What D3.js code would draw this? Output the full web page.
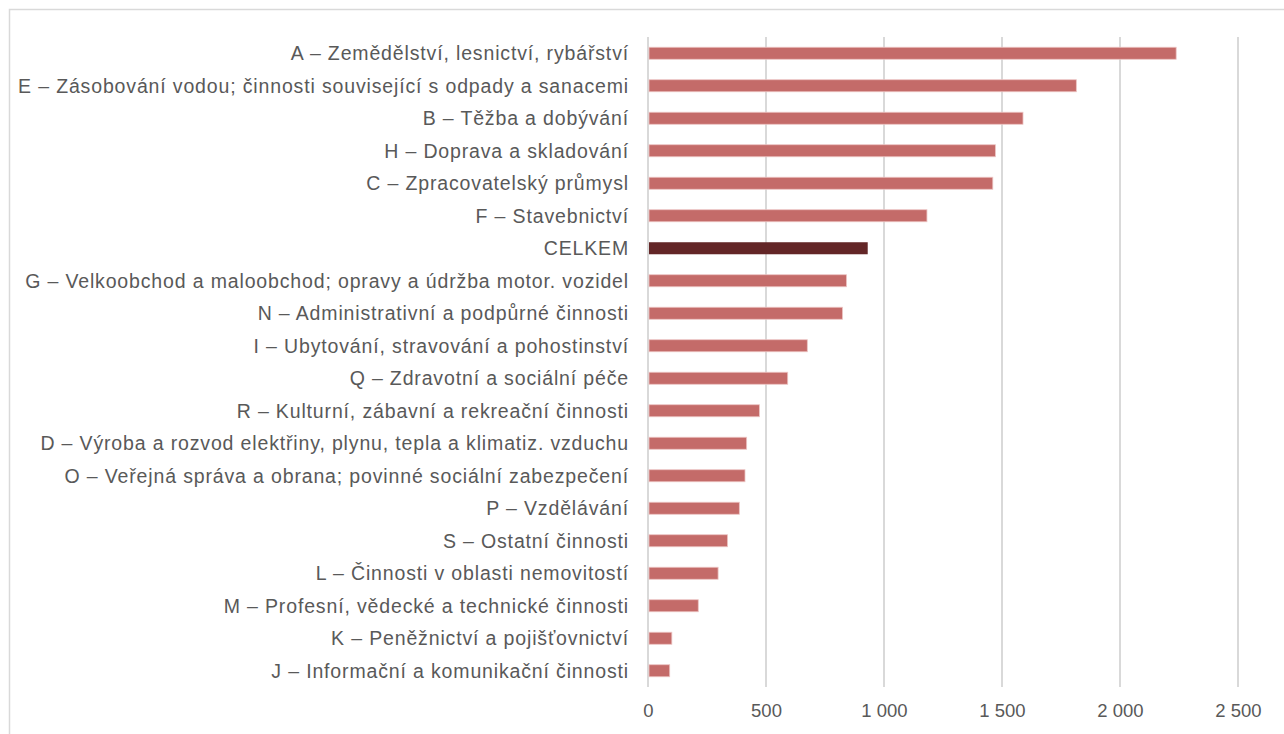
<!DOCTYPE html>
<html>
<head>
<meta charset="UTF-8">
<title>Odvětví</title>
<style>
  body { margin: 0; background: #fff; }
  text { font-family: "Liberation Sans", Arial, sans-serif; }
</style>
</head>
<body>
<div id="chart"></div>
<script src="https://d3js.org/d3.v7.min.js"></script>
<script>
// categories from top to bottom
var categories = [
  "A – Zemědělství, lesnictví, rybářství",
  "E – Zásobování vodou; činnosti související s odpady a sanacemi",
  "B – Těžba a dobývání",
  "H – Doprava a skladování",
  "C – Zpracovatelský průmysl",
  "F – Stavebnictví",
  "CELKEM",
  "G – Velkoobchod a maloobchod; opravy a údržba motor. vozidel",
  "N – Administrativní a podpůrné činnosti",
  "I – Ubytování, stravování a pohostinství",
  "Q – Zdravotní a sociální péče",
  "R – Kulturní, zábavní a rekreační činnosti",
  "D – Výroba a rozvod elektřiny, plynu, tepla a klimatiz. vzduchu",
  "O – Veřejná správa a obrana; povinné sociální zabezpečení",
  "P – Vzdělávání",
  "S – Ostatní činnosti",
  "L – Činnosti v oblasti nemovitostí",
  "M – Profesní, vědecké a technické činnosti",
  "K – Peněžnictví a pojišťovnictví",
  "J – Informační a komunikační činnosti"
];
var values = [2238, 1815, 1589, 1472, 1461, 1182, 931, 841, 824, 675, 592, 472, 418, 411, 387, 337, 297, 213, 101, 92];
var xTicks = [0, 500, 1000, 1500, 2000, 2500];
var totalLabel = "CELKEM";

var W = 1284, H = 734;
var margin = { top: 37, right: 46, bottom: 47, left: 648 };

var svg = d3.select("#chart").append("svg")
  .attr("width", W)
  .attr("height", H);

// outer frame (cut by the window on the right and bottom)
svg.append("rect")
  .attr("x", 9.5).attr("y", 9.5)
  .attr("width", W).attr("height", H)
  .attr("fill", "none")
  .attr("stroke", "#d9d9d9")
  .attr("stroke-width", 1.5);

var x = d3.scaleLinear()
  .domain([0, 2500])
  .range([margin.left, W - margin.right]);

var y = d3.scaleBand()
  .domain(categories)
  .range([margin.top, H - margin.bottom])
  .paddingInner(0.63)
  .paddingOuter(0.315);

// gridlines
svg.append("g")
  .selectAll("line")
  .data(xTicks)
  .join("line")
  .attr("x1", function(d) { return x(d); })
  .attr("x2", function(d) { return x(d); })
  .attr("y1", margin.top)
  .attr("y2", H - margin.bottom)
  .attr("stroke", "#d9d9d9")
  .attr("stroke-width", 2);

// bars
svg.append("g")
  .selectAll("rect")
  .data(values)
  .join("rect")
  .attr("x", x(0) + 1)
  .attr("y", function(d, i) { return y(categories[i]); })
  .attr("width", function(d) { return x(d) - x(0) - 1; })
  .attr("height", y.bandwidth())
  .attr("fill", function(d, i) { return categories[i] === totalLabel ? "#632627" : "#c46b69"; })
  .attr("stroke", function(d, i) { return categories[i] === totalLabel ? "none" : "#ecc4c3"; })
  .attr("stroke-width", 0.8);

// category labels
svg.append("g")
  .selectAll("text")
  .data(categories)
  .join("text")
  .attr("x", margin.left - 19)
  .attr("y", function(d) { return y(d) + y.bandwidth() / 2; })
  .attr("dy", "0.36em")
  .attr("text-anchor", "end")
  .attr("font-size", "19.5px")
  .attr("letter-spacing", "0.85px")
  .attr("fill", "#595959")
  .text(function(d) { return d; });

// x axis labels
var fmt = function(d) { return d3.format(",")(d).replace(/,/g, " "); };
var xAxis = d3.axisBottom(x)
  .tickValues(xTicks)
  .tickSize(0)
  .tickPadding(17)
  .tickFormat(fmt);

var gx = svg.append("g")
  .attr("transform", "translate(0," + (H - margin.bottom) + ")")
  .call(xAxis);
gx.select(".domain").remove();
gx.selectAll("text")
  .attr("font-size", "18.5px")
  .attr("font-family", "Liberation Sans, Arial, sans-serif")
  .attr("fill", "#595959");
</script>
</body>
</html>
